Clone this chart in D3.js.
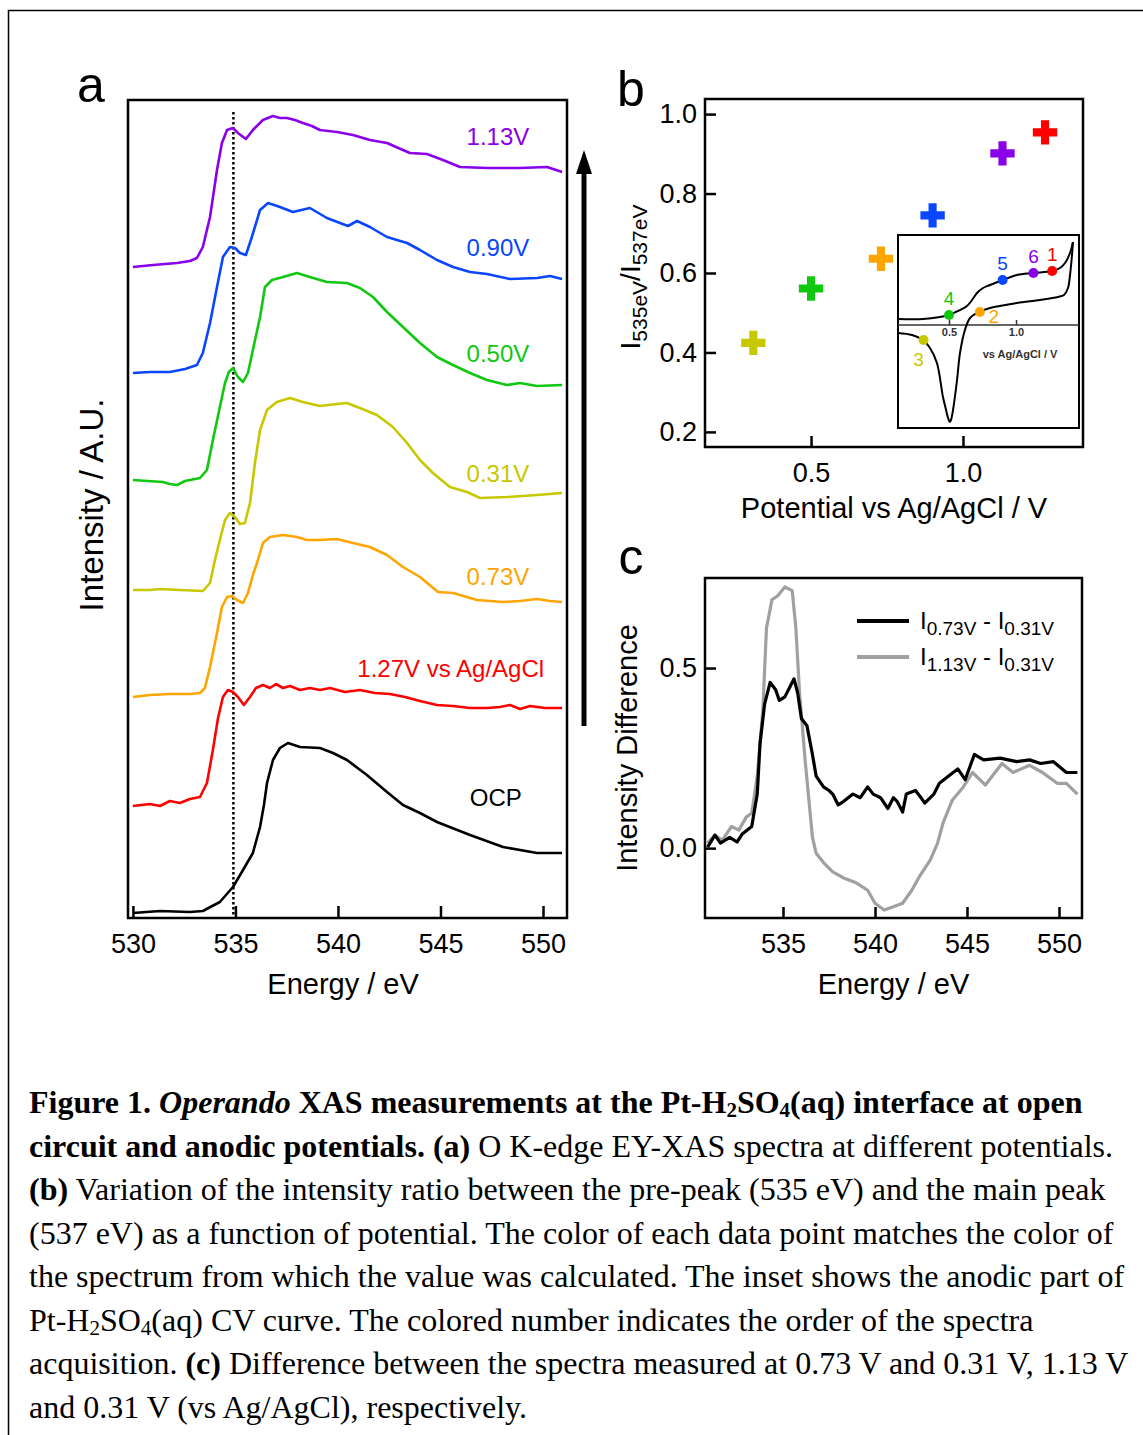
<!DOCTYPE html>
<html><head><meta charset="utf-8">
<script src="https://cdn.jsdelivr.net/npm/d3@7"></script>
<style>body{margin:0;background:#fff} svg{display:block}</style>
</head><body><div id="fig"></div>
<script>
var W = 1143, H = 1435;
var sans = "'Liberation Sans', Arial, Helvetica, sans-serif";
var serif = "'Liberation Serif', 'Times New Roman', serif";

// ---- panel a : O K-edge spectra, [energy eV, offset intensity a.u.]
var specOCP = [[530.0,0.05],[531.32,0.07],[532.78,0.06],[533.41,0.07],[534.24,0.16],[534.88,0.31],[535.37,0.48],[535.85,0.65],[536.2,0.91],[536.39,1.13],[536.54,1.35],[536.83,1.58],[537.17,1.70],[537.56,1.75],[538.15,1.71],[539.12,1.70],[539.76,1.65],[540.44,1.58],[541.41,1.43],[542.39,1.26],[543.17,1.13],[544.0,1.05],[544.83,0.96],[546.44,0.83],[548.05,0.71],[549.71,0.65],[550.93,0.65]];
var spec127 = [[530.0,1.12],[530.83,1.14],[531.32,1.12],[531.8,1.17],[532.29,1.15],[532.78,1.19],[533.27,1.21],[533.61,1.35],[533.9,1.68],[534.15,2.0],[534.39,2.21],[534.63,2.28],[534.88,2.26],[535.12,2.21],[535.41,2.13],[535.71,2.21],[536.0,2.30],[536.34,2.33],[536.68,2.30],[536.98,2.34],[537.32,2.30],[537.66,2.32],[538.15,2.28],[538.63,2.30],[539.12,2.28],[539.61,2.30],[540.34,2.26],[541.07,2.28],[541.8,2.25],[542.54,2.24],[543.27,2.21],[544.0,2.17],[544.83,2.13],[545.61,2.12],[546.44,2.10],[547.27,2.10],[547.9,2.11],[548.39,2.13],[548.88,2.09],[549.37,2.12],[550.1,2.10],[550.93,2.10]];
var spec073 = [[530.0,2.21],[530.83,2.23],[531.8,2.24],[532.78,2.24],[533.27,2.25],[533.51,2.30],[533.76,2.51],[534.1,2.85],[534.34,3.11],[534.59,3.21],[534.83,3.22],[535.07,3.18],[535.37,3.15],[535.61,3.25],[535.85,3.43],[536.05,3.55],[536.34,3.75],[536.68,3.81],[537.32,3.83],[538.0,3.81],[538.49,3.78],[539.12,3.78],[539.95,3.79],[540.73,3.75],[541.56,3.71],[542.39,3.63],[543.17,3.51],[544.0,3.41],[544.88,3.26],[545.61,3.25],[546.78,3.18],[548.05,3.16],[548.88,3.17],[549.71,3.19],[550.34,3.17],[550.93,3.16]];
var spec031 = [[530.0,3.28],[530.83,3.28],[531.32,3.29],[532.29,3.28],[533.41,3.27],[533.76,3.35],[534.0,3.58],[534.24,3.78],[534.49,3.98],[534.73,4.05],[534.98,4.01],[535.22,3.94],[535.46,3.95],[535.71,4.15],[535.95,4.55],[536.2,4.88],[536.54,5.08],[537.02,5.16],[537.66,5.20],[538.29,5.16],[539.12,5.12],[539.95,5.14],[540.44,5.15],[541.07,5.10],[541.9,5.03],[542.68,4.91],[543.37,4.75],[544.0,4.58],[544.63,4.45],[545.46,4.31],[546.29,4.26],[546.93,4.20],[548.24,4.21],[549.71,4.23],[550.93,4.25]];
var spec050 = [[530.0,4.38],[530.73,4.37],[531.46,4.36],[531.8,4.34],[532.15,4.33],[532.54,4.37],[533.27,4.40],[533.61,4.48],[533.9,4.78],[534.24,5.11],[534.49,5.35],[534.68,5.46],[534.88,5.50],[535.12,5.41],[535.37,5.36],[535.61,5.45],[535.85,5.68],[536.2,6.01],[536.44,6.31],[536.78,6.38],[537.32,6.41],[538.0,6.45],[538.63,6.41],[539.46,6.36],[540.44,6.35],[541.07,6.30],[541.71,6.21],[542.39,6.06],[543.17,5.91],[544.0,5.75],[544.83,5.61],[545.61,5.53],[546.44,5.45],[547.27,5.38],[548.24,5.33],[548.88,5.35],[549.71,5.32],[550.93,5.33]];
var spec090 = [[530.0,5.45],[530.83,5.46],[531.8,5.46],[532.54,5.49],[533.12,5.53],[533.41,5.65],[533.76,5.95],[534.1,6.31],[534.39,6.61],[534.73,6.71],[534.98,6.70],[535.22,6.65],[535.51,6.63],[535.8,6.81],[536.2,7.08],[536.59,7.15],[537.17,7.11],[537.8,7.06],[538.63,7.10],[539.46,7.00],[540.1,6.95],[540.49,6.92],[540.93,6.97],[541.56,6.91],[542.39,6.81],[543.37,6.75],[544.0,6.68],[544.83,6.58],[545.61,6.51],[546.44,6.46],[547.27,6.44],[548.39,6.39],[549.71,6.40],[550.34,6.42],[550.93,6.39]];
var spec113 = [[530.0,6.51],[530.98,6.53],[531.56,6.54],[532.15,6.55],[532.78,6.57],[533.12,6.60],[533.41,6.71],[533.76,7.01],[534.1,7.48],[534.34,7.75],[534.59,7.88],[534.88,7.90],[535.12,7.85],[535.51,7.79],[535.85,7.88],[536.34,7.98],[536.83,8.02],[537.17,8.00],[537.51,8.00],[537.9,7.98],[538.29,7.95],[538.73,7.92],[539.12,7.88],[539.95,7.86],[540.73,7.83],[541.56,7.78],[542.39,7.75],[543.17,7.68],[543.51,7.65],[544.34,7.64],[545.12,7.58],[545.95,7.51],[547.27,7.50],[548.88,7.50],[550.2,7.51],[550.93,7.46]];

var spectra = [spec113, spec090, spec050, spec031, spec073, spec127, specOCP];
var spectraLabels = ["1.13V", "0.90V", "0.50V", "0.31V", "0.73V", "1.27V vs Ag/AgCl", "OCP"];
var spectraColors = ["#8a00e8", "#0a46ff", "#10c810", "#c8c800", "#ffa500", "#ff0000", "#000000"];
var labelE = [547.8, 547.8, 547.8, 547.8, 547.8, 545.5, 547.7];
var labelI = [7.82, 6.71, 5.65, 4.45, 3.42, 2.50, 1.21];
var energyTicksA = [530, 535, 540, 545, 550];
var prePeakE = 534.9;

// ---- panel b : intensity ratio vs potential
var potentials = [0.31, 0.50, 0.73, 0.90, 1.13, 1.27];
var ratios = [0.424, 0.561, 0.636, 0.745, 0.901, 0.954];
var pointColors = ["#c8c800", "#10c810", "#ffa500", "#0a46ff", "#8a00e8", "#ff0000"];
var ratioTicks = [0.2, 0.4, 0.6, 0.8, 1.0];
var potentialTicks = [0.5, 1.0];

// inset CV, [potential V, current arb.]
var cvAnodic = [[0.119,0.6],[0.306,0.6],[0.433,0.8],[0.5,1.0],[0.567,1.4],[0.634,1.9],[0.672,2.5],[0.709,3.2],[0.754,3.7],[0.806,4.0],[0.903,4.5],[1.007,5.0],[1.127,5.2],[1.269,5.4],[1.328,5.7],[1.366,6.2],[1.403,7.2],[1.425,8.3]];
var cvCathodic = [[1.425,8.3],[1.418,7.0],[1.403,5.0],[1.388,3.7],[1.358,3.0],[1.313,2.8],[1.179,2.5],[1.007,2.2],[0.806,1.7],[0.724,1.3],[0.657,0.7],[0.619,-0.5],[0.582,-2.8],[0.560,-5.5],[0.530,-8.5],[0.515,-9.5],[0.507,-9.7],[0.493,-9.3],[0.478,-8.5],[0.455,-7.2],[0.410,-3.8],[0.358,-2.3],[0.306,-1.5],[0.224,-1.0],[0.119,-0.8]];
var cvOrder = ["3", "4", "2", "5", "6", "1"];
var cvPointI = [-1.5, 1.0, 1.3, 4.5, 5.2, 5.4];
var insetTicks = [0.5, 1.0];

// ---- panel c : difference spectra
var diff073 = [[530.9,0.003],[531.3,0.036],[531.6,0.014],[532.1,0.03],[532.5,0.017],[532.8,0.04],[533.3,0.06],[533.6,0.15],[533.75,0.29],[534.0,0.40],[534.3,0.46],[534.6,0.44],[534.8,0.41],[535.1,0.42],[535.4,0.45],[535.6,0.47],[535.8,0.43],[536.0,0.36],[536.3,0.34],[536.6,0.26],[536.8,0.20],[537.2,0.17],[537.5,0.16],[537.7,0.15],[538.0,0.12],[538.3,0.13],[538.8,0.15],[539.2,0.14],[539.6,0.17],[539.9,0.15],[540.3,0.14],[540.7,0.11],[541.0,0.14],[541.2,0.13],[541.5,0.10],[541.7,0.15],[542.2,0.16],[542.5,0.14],[542.7,0.125],[543.2,0.15],[543.5,0.18],[544.0,0.20],[544.5,0.22],[544.9,0.19],[545.4,0.26],[545.9,0.245],[546.8,0.25],[547.7,0.24],[548.4,0.245],[549.0,0.235],[549.7,0.24],[550.4,0.21],[551.0,0.21]];
var diff113 = [[530.9,0.014],[531.3,0.036],[531.7,0.022],[532.2,0.06],[532.6,0.05],[533.0,0.086],[533.3,0.097],[533.6,0.20],[533.9,0.38],[534.1,0.61],[534.4,0.69],[534.7,0.70],[535.1,0.725],[535.5,0.715],[535.7,0.61],[535.9,0.43],[536.2,0.245],[536.6,0.03],[536.8,-0.014],[537.2,-0.04],[537.7,-0.066],[538.3,-0.083],[539.0,-0.097],[539.6,-0.117],[540.0,-0.153],[540.5,-0.172],[541.0,-0.163],[541.5,-0.153],[542.0,-0.117],[542.4,-0.08],[543.0,-0.033],[543.4,0.014],[543.7,0.07],[544.2,0.133],[544.8,0.17],[545.3,0.21],[546.0,0.175],[546.9,0.235],[547.5,0.21],[548.4,0.23],[549.1,0.21],[549.9,0.18],[550.4,0.18],[551.0,0.15]];
var diffTicksY = [0.0, 0.5];
var energyTicksC = [535, 540, 545, 550];

// ---------------------------------------------------------------
var svg = d3.select("#fig").append("svg")
    .attr("width", W).attr("height", H)
    .style("font-family", sans);
svg.append("rect").attr("width", W).attr("height", H).attr("fill", "#fff");
svg.append("rect").attr("x", 8.5).attr("y", 10.5).attr("width", 1300).attr("height", 1600)
    .attr("fill", "none").attr("stroke", "#000").attr("stroke-width", 1.5);

function styleAxis(g, size) {
  g.select(".domain").remove();
  g.selectAll(".tick line").attr("stroke", "#000").attr("stroke-width", 2.5);
  g.selectAll(".tick text").attr("font-family", sans).attr("font-size", size).attr("fill", "#000");
}
function frame(x0, y0, x1, y1) {
  svg.append("rect").attr("x", x0).attr("y", y0).attr("width", x1 - x0).attr("height", y1 - y0)
    .attr("fill", "none").attr("stroke", "#000").attr("stroke-width", 2.5);
}
function panelLetter(t, x, y) {
  svg.append("text").attr("x", x).attr("y", y).attr("font-size", 50).attr("text-anchor", "middle").text(t);
}

// ---------------- panel a
var ax0 = 128, ax1 = 567, ay0 = 100, ay1 = 918;
var xA = d3.scaleLinear().domain([529.76, 551.17]).range([ax0, ax1]);
var yA = d3.scaleLinear().domain([0, 8.18]).range([ay1, ay0]);
var lineA = d3.line().x(function(d){return xA(d[0]);}).y(function(d){return yA(d[1]);});

svg.append("line").attr("x1", xA(prePeakE)).attr("x2", xA(prePeakE))
   .attr("y1", ay0 + 12).attr("y2", ay1)
   .attr("stroke", "#000").attr("stroke-width", 2.5).attr("stroke-dasharray", "2.5,2.5");

svg.append("g").selectAll("path").data(spectra).enter().append("path")
   .attr("d", lineA).attr("fill", "none")
   .attr("stroke", function(d, i){return spectraColors[i];})
   .attr("stroke-width", 2.6).attr("stroke-linejoin", "round");

svg.append("g").selectAll("text").data(spectraLabels).enter().append("text")
   .attr("x", function(d, i){return xA(labelE[i]);})
   .attr("y", function(d, i){return yA(labelI[i]);})
   .attr("dy", "0.36em").attr("text-anchor", "middle").attr("font-size", 24)
   .attr("fill", function(d, i){return spectraColors[i];})
   .text(function(d){return d;});

svg.append("g").attr("transform", "translate(0," + ay1 + ")")
   .call(d3.axisBottom(xA).tickValues(energyTicksA).tickSizeInner(-12).tickSizeOuter(0).tickPadding(16))
   .call(styleAxis, 27);
frame(ax0, ay0, ax1, ay1);

svg.append("text").attr("x", xA(540.25)).attr("y", 994).attr("text-anchor", "middle")
   .attr("font-size", 29).text("Energy / eV");
svg.append("text").attr("transform", "translate(103," + 505 + ") rotate(-90)")
   .attr("text-anchor", "middle").attr("font-size", 33).text("Intensity / A.U.");
panelLetter("a", 91, 102);

// arrow
svg.append("line").attr("x1", 584).attr("x2", 584).attr("y1", 726).attr("y2", 168)
   .attr("stroke", "#000").attr("stroke-width", 5);
svg.append("path").attr("d", "M584,150 L576,174 L592,174 Z").attr("fill", "#000");

// ---------------- panel b
var bx0 = 705, bx1 = 1083, by0 = 99, by1 = 447;
var xB = d3.scaleLinear().domain([0.151, 1.395]).range([bx0, bx1]);
var yB = d3.scaleLinear().domain([0.162, 1.038]).range([by1, by0]);

svg.append("g").attr("transform", "translate(0," + by1 + ")")
   .call(d3.axisBottom(xB).tickValues(potentialTicks).tickFormat(d3.format(".1f"))
         .tickSizeInner(-11).tickSizeOuter(0).tickPadding(16))
   .call(styleAxis, 27);
svg.append("g").attr("transform", "translate(" + bx0 + ",0)")
   .call(d3.axisLeft(yB).tickValues(ratioTicks).tickFormat(d3.format(".1f"))
         .tickSizeInner(-11).tickSizeOuter(0).tickPadding(8))
   .call(styleAxis, 27);

svg.append("g").selectAll("path").data(potentials).enter().append("path")
   .attr("d", d3.symbol(d3.symbolCross, 330))
   .attr("transform", function(d, i){return "translate(" + xB(d) + "," + yB(ratios[i]) + ")";})
   .attr("fill", function(d, i){return pointColors[i];});

// inset
var ix0 = 898, ix1 = 1079, iy0 = 235, iy1 = 428;
var xI = d3.scaleLinear().domain([0.1194, 1.4701]).range([ix0, ix1]);
var yI = d3.scaleLinear().domain([-10.3, 9.0]).range([iy1, iy0]);
var lineI = d3.line().curve(d3.curveCatmullRom).x(function(d){return xI(d[0]);}).y(function(d){return yI(d[1]);});
svg.append("rect").attr("x", ix0).attr("y", iy0).attr("width", ix1 - ix0).attr("height", iy1 - iy0)
   .attr("fill", "#fff").attr("stroke", "#000").attr("stroke-width", 2);
svg.append("line").attr("x1", ix0).attr("x2", ix1).attr("y1", yI(0)).attr("y2", yI(0))
   .attr("stroke", "#333").attr("stroke-width", 1.5);
var insetAxis = svg.append("g").attr("transform", "translate(0," + yI(0) + ")")
   .call(d3.axisBottom(xI).tickValues(insetTicks).tickFormat(d3.format(".1f")).tickSizeInner(-5).tickSizeOuter(0).tickPadding(3));
insetAxis.select(".domain").remove();
insetAxis.selectAll(".tick line").attr("stroke", "#333").attr("stroke-width", 1.5);
insetAxis.selectAll(".tick text").attr("font-family", sans).attr("font-size", 11).attr("font-weight", "bold").attr("fill", "#333");
svg.append("text").attr("x", xI(1.03)).attr("y", 358).attr("text-anchor", "middle")
   .attr("font-size", 11).attr("font-weight", "bold").attr("fill", "#333").text("vs Ag/AgCl / V");
svg.append("path").attr("d", lineI(cvAnodic)).attr("fill", "none").attr("stroke", "#000").attr("stroke-width", 2);
svg.append("path").attr("d", lineI(cvCathodic)).attr("fill", "none").attr("stroke", "#000").attr("stroke-width", 2);

var orderDx = [-5, 0, 14, 0, 0, 0];
var orderDy = [19, -17, 4, -17, -17, -17];
svg.append("g").selectAll("circle").data(potentials).enter().append("circle")
   .attr("cx", function(d){return xI(d);})
   .attr("cy", function(d, i){return yI(cvPointI[i]);})
   .attr("r", 5).attr("fill", function(d, i){return pointColors[i];});
svg.append("g").selectAll("text").data(potentials).enter().append("text")
   .attr("x", function(d, i){return xI(d) + orderDx[i];})
   .attr("y", function(d, i){return yI(cvPointI[i]) + orderDy[i];})
   .attr("dy", "0.35em").attr("text-anchor", "middle").attr("font-size", 19)
   .attr("fill", function(d, i){return pointColors[i];})
   .text(function(d, i){return cvOrder[i];});

frame(bx0, by0, bx1, by1);
svg.append("text").attr("x", (bx0 + bx1) / 2).attr("y", 518).attr("text-anchor", "middle")
   .attr("font-size", 29).text("Potential vs Ag/AgCl / V");
var yLabB = svg.append("text").attr("transform", "translate(640,277) rotate(-90)")
   .attr("text-anchor", "middle").attr("font-size", 28);
yLabB.append("tspan").text("I");
yLabB.append("tspan").attr("font-size", 21).attr("dy", 7).text("535eV");
yLabB.append("tspan").attr("dy", -7).text("/I");
yLabB.append("tspan").attr("font-size", 21).attr("dy", 7).text("537eV");
panelLetter("b", 631, 106);

// ---------------- panel c
var cx0 = 705, cx1 = 1082, cy0 = 578, cy1 = 918;
var xC = d3.scaleLinear().domain([530.76, 551.25]).range([cx0, cx1]);
var yC = d3.scaleLinear().domain([-0.194, 0.75]).range([cy1, cy0]);
var lineC = d3.line().x(function(d){return xC(d[0]);}).y(function(d){return yC(d[1]);});

var diffSeries = [diff113, diff073];
var diffColors = ["#a0a0a0", "#000000"];
svg.append("g").selectAll("path").data(diffSeries).enter().append("path")
   .attr("d", lineC).attr("fill", "none")
   .attr("stroke", function(d, i){return diffColors[i];})
   .attr("stroke-width", 3.2).attr("stroke-linejoin", "round");

svg.append("g").attr("transform", "translate(0," + cy1 + ")")
   .call(d3.axisBottom(xC).tickValues(energyTicksC).tickSizeInner(-11).tickSizeOuter(0).tickPadding(16))
   .call(styleAxis, 27);
svg.append("g").attr("transform", "translate(" + cx0 + ",0)")
   .call(d3.axisLeft(yC).tickValues(diffTicksY).tickFormat(d3.format(".1f")).tickSizeInner(-11).tickSizeOuter(0).tickPadding(8))
   .call(styleAxis, 27);
frame(cx0, cy0, cx1, cy1);

// legend
var legSub = [["0.73V", "0.31V"], ["1.13V", "0.31V"]];
var legColors = ["#000000", "#a0a0a0"];
legSub.forEach(function(s, i) {
  var y = 621 + i * 36;
  svg.append("line").attr("x1", 857).attr("x2", 909).attr("y1", y).attr("y2", y)
     .attr("stroke", legColors[i]).attr("stroke-width", 4);
  var t = svg.append("text").attr("x", 920).attr("y", y + 8).attr("font-size", 24);
  t.append("tspan").text("I");
  t.append("tspan").attr("font-size", 19).attr("dy", 6).text(s[0]);
  t.append("tspan").attr("dy", -6).text(" - I");
  t.append("tspan").attr("font-size", 19).attr("dy", 6).text(s[1]);
});

svg.append("text").attr("x", (cx0 + cx1) / 2).attr("y", 994).attr("text-anchor", "middle")
   .attr("font-size", 29).text("Energy / eV");
svg.append("text").attr("transform", "translate(637," + (cy0 + cy1) / 2 + ") rotate(-90)")
   .attr("text-anchor", "middle").attr("font-size", 29).text("Intensity Difference");
panelLetter("c", 631, 574);

// ---------------- caption
var caption = [
  [["Figure 1. ", "b"], ["Operando", "bi"], [" XAS measurements at the Pt-H", "b"], ["2", "bs"], ["SO", "b"], ["4", "bs"], ["(aq) interface at open", "b"]],
  [["circuit and anodic potentials. (a)", "b"], [" O K-edge EY-XAS spectra at different potentials.", ""]],
  [["(b)", "b"], [" Variation of the intensity ratio between the pre-peak (535 eV) and the main peak", ""]],
  [["(537 eV) as a function of potential. The color of each data point matches the color of", ""]],
  [["the spectrum from which the value was calculated. The inset shows the anodic part of", ""]],
  [["Pt-H", ""], ["2", "s"], ["SO", ""], ["4", "s"], ["(aq) CV curve. The colored number indicates the order of the spectra", ""]],
  [["acquisition. ", ""], ["(c)", "b"], [" Difference between the spectra measured at 0.73 V and 0.31 V, 1.13 V", ""]],
  [["and 0.31 V (vs Ag/AgCl), respectively.", ""]]
];
caption.forEach(function(line, li) {
  var t = svg.append("text").attr("x", 29).attr("y", 1113 + li * 43.5)
     .attr("font-family", serif).attr("font-size", 32).attr("fill", "#000");
  line.forEach(function(seg) {
    var sp = t.append("tspan").text(seg[0]);
    if (seg[1].indexOf("b") >= 0) sp.attr("font-weight", "bold");
    if (seg[1].indexOf("i") >= 0) sp.attr("font-style", "italic");
    if (seg[1].indexOf("s") >= 0) sp.attr("font-size", 21).attr("baseline-shift", "-4");
  });
});
</script>
</body></html>
